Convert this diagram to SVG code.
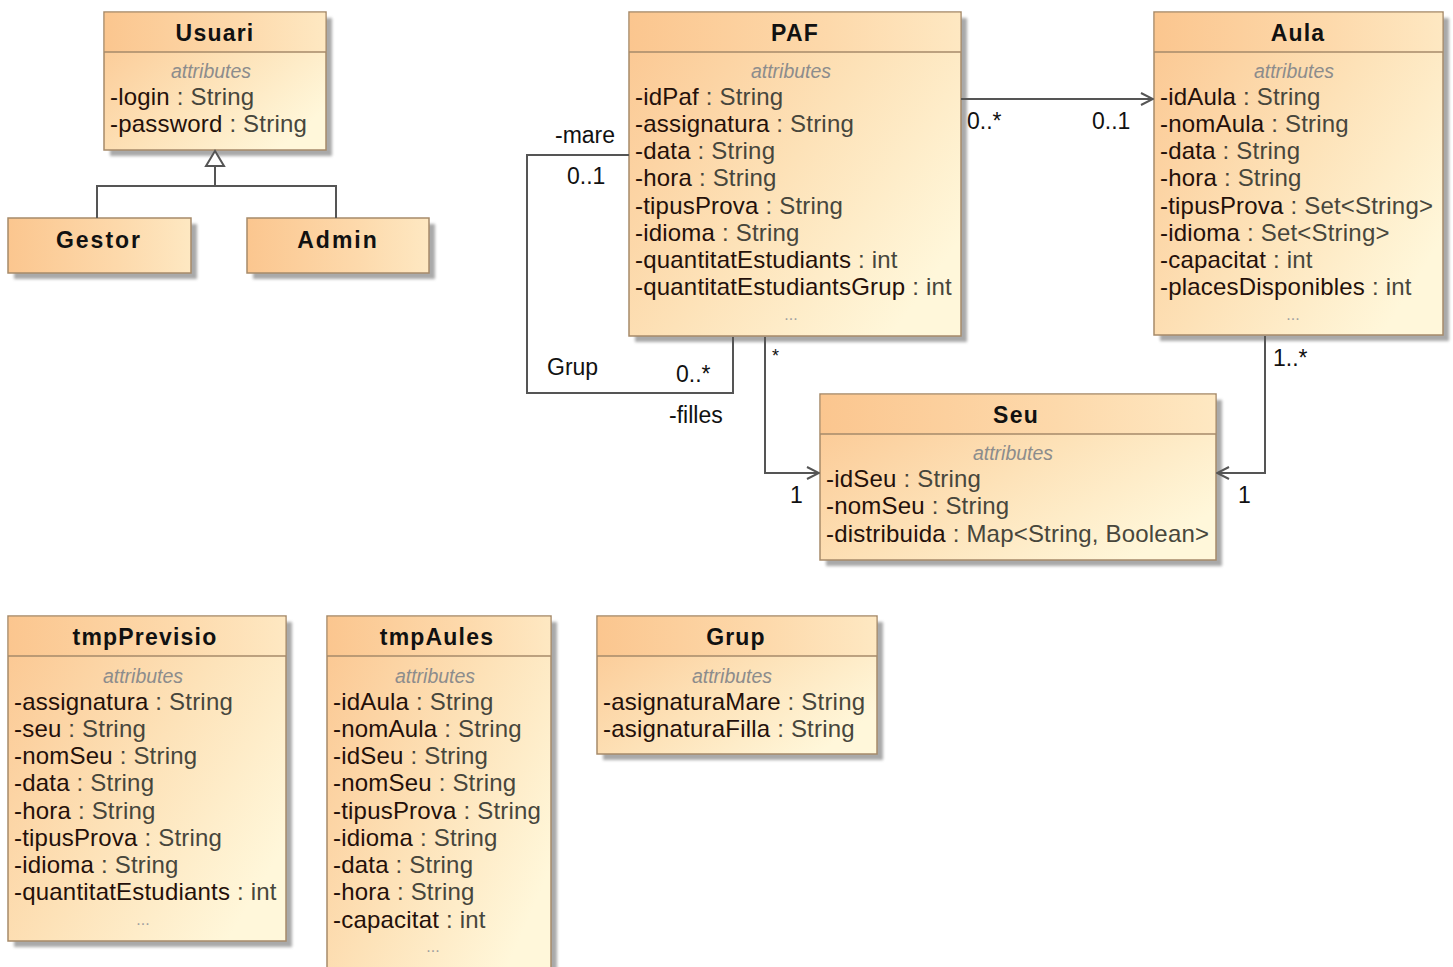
<svg xmlns="http://www.w3.org/2000/svg" width="1453" height="967" viewBox="0 0 1453 967">
  <defs>
    <linearGradient id="body" x1="0" y1="0" x2="1" y2="0.7">
      <stop offset="0" stop-color="#fbc690"/>
      <stop offset="0.55" stop-color="#fde2b8"/>
      <stop offset="1" stop-color="#fff7da"/>
    </linearGradient>
    <linearGradient id="head" x1="0" y1="0" x2="1" y2="0">
      <stop offset="0" stop-color="#fbc68f"/>
      <stop offset="0.6" stop-color="#fdd9ab"/>
      <stop offset="1" stop-color="#fee8c2"/>
    </linearGradient>
    <filter id="soft" x="-10%" y="-10%" width="120%" height="120%">
      <feGaussianBlur stdDeviation="1.5"/>
    </filter>
    <marker id="open" viewBox="0 0 14 14" refX="13" refY="7" markerWidth="14" markerHeight="14" markerUnits="userSpaceOnUse" orient="auto">
      <path d="M1,1 L13,7 L1,13" fill="none" stroke="#555" stroke-width="2"/>
    </marker>
  </defs>
  <style>
    .shadow { fill: #a9a9a9; filter: url(#soft); }
    .box { fill: url(#body); stroke: #a68a6a; stroke-width: 1.5; }
    .hd { fill: url(#head); }
    .sep { stroke: #a68a6a; stroke-width: 1.5; }
    .title { font-family: "Liberation Sans", Arial, sans-serif; font-weight: bold; font-size: 23px; letter-spacing: 1.2px; fill: #111; text-anchor: middle; }
    .cap { font-family: "Liberation Sans", Arial, sans-serif; font-style: italic; font-size: 19.5px; fill: #8c8c8c; text-anchor: middle; }
    .dots { font-family: "Liberation Sans", Arial, sans-serif; font-size: 16px; fill: #a0a0a0; text-anchor: middle; }
    .attr { font-family: "Liberation Sans", Arial, sans-serif; font-size: 24px; letter-spacing: 0.2px; }
    .n { fill: #24100a; }
    .t { fill: #47463c; }
    .lbl { font-family: "Liberation Sans", Arial, sans-serif; font-size: 23px; fill: #111; }
    .line { fill: none; stroke: #555; stroke-width: 2; }
  </style>

  <rect width="1453" height="967" fill="#ffffff"/>

  <!-- Usuari -->
  <g id="usuari">
    <rect class="shadow" x="110" y="18" width="222" height="138"/>
    <rect class="box" x="104" y="12" width="222" height="138"/>
    <rect class="hd" x="104.75" y="12.75" width="220.5" height="39.25"/>
    <line class="sep" x1="104" y1="52" x2="326" y2="52"/>
    <text class="title" x="215" y="41">Usuari</text>
    <text class="cap" x="211" y="78">attributes</text>
    <text class="attr" x="110" y="105"><tspan class="n">-login</tspan><tspan class="t"> : String</tspan></text>
    <text class="attr" x="110" y="132"><tspan class="n">-password</tspan><tspan class="t"> : String</tspan></text>
  </g>

  <!-- Gestor -->
  <g id="gestor">
    <rect class="shadow" x="14" y="224" width="183" height="55"/>
    <rect class="box" x="8" y="218" width="183" height="55" style="fill:url(#head)"/>
    <text class="title" x="99" y="248" style="letter-spacing:2px">Gestor</text>
  </g>

  <!-- Admin -->
  <g id="admin">
    <rect class="shadow" x="253" y="224" width="182" height="55"/>
    <rect class="box" x="247" y="218" width="182" height="55" style="fill:url(#head)"/>
    <text class="title" x="338" y="248" style="letter-spacing:2px">Admin</text>
  </g>

  <!-- PAF -->
  <g id="paf">
    <rect class="shadow" x="635" y="18" width="332" height="324"/>
    <rect class="box" x="629" y="12" width="332" height="324"/>
    <rect class="hd" x="629.75" y="12.75" width="330.5" height="39.25"/>
    <line class="sep" x1="629" y1="52" x2="961" y2="52"/>
    <text class="title" x="795" y="41">PAF</text>
    <text class="cap" x="791" y="78">attributes</text>
    <text class="attr" x="635" y="105"><tspan class="n">-idPaf</tspan><tspan class="t"> : String</tspan></text>
    <text class="attr" x="635" y="132"><tspan class="n">-assignatura</tspan><tspan class="t"> : String</tspan></text>
    <text class="attr" x="635" y="159"><tspan class="n">-data</tspan><tspan class="t"> : String</tspan></text>
    <text class="attr" x="635" y="186"><tspan class="n">-hora</tspan><tspan class="t"> : String</tspan></text>
    <text class="attr" x="635" y="214"><tspan class="n">-tipusProva</tspan><tspan class="t"> : String</tspan></text>
    <text class="attr" x="635" y="241"><tspan class="n">-idioma</tspan><tspan class="t"> : String</tspan></text>
    <text class="attr" x="635" y="268"><tspan class="n">-quantitatEstudiants</tspan><tspan class="t"> : int</tspan></text>
    <text class="attr" x="635" y="295"><tspan class="n">-quantitatEstudiantsGrup</tspan><tspan class="t"> : int</tspan></text>
    <text class="dots" x="791" y="320">...</text>
  </g>

  <!-- Aula -->
  <g id="aula">
    <rect class="shadow" x="1160" y="18" width="289" height="323"/>
    <rect class="box" x="1154" y="12" width="289" height="323"/>
    <rect class="hd" x="1154.75" y="12.75" width="287.5" height="39.25"/>
    <line class="sep" x1="1154" y1="52" x2="1443" y2="52"/>
    <text class="title" x="1298" y="41">Aula</text>
    <text class="cap" x="1294" y="78">attributes</text>
    <text class="attr" x="1160" y="105"><tspan class="n">-idAula</tspan><tspan class="t"> : String</tspan></text>
    <text class="attr" x="1160" y="132"><tspan class="n">-nomAula</tspan><tspan class="t"> : String</tspan></text>
    <text class="attr" x="1160" y="159"><tspan class="n">-data</tspan><tspan class="t"> : String</tspan></text>
    <text class="attr" x="1160" y="186"><tspan class="n">-hora</tspan><tspan class="t"> : String</tspan></text>
    <text class="attr" x="1160" y="214"><tspan class="n">-tipusProva</tspan><tspan class="t"> : Set&lt;String&gt;</tspan></text>
    <text class="attr" x="1160" y="241"><tspan class="n">-idioma</tspan><tspan class="t"> : Set&lt;String&gt;</tspan></text>
    <text class="attr" x="1160" y="268"><tspan class="n">-capacitat</tspan><tspan class="t"> : int</tspan></text>
    <text class="attr" x="1160" y="295"><tspan class="n">-placesDisponibles</tspan><tspan class="t"> : int</tspan></text>
    <text class="dots" x="1293" y="320">...</text>
  </g>

  <!-- Seu -->
  <g id="seu">
    <rect class="shadow" x="826" y="400" width="396" height="166"/>
    <rect class="box" x="820" y="394" width="396" height="166"/>
    <rect class="hd" x="820.75" y="394.75" width="394.5" height="39.25"/>
    <line class="sep" x1="820" y1="434" x2="1216" y2="434"/>
    <text class="title" x="1016" y="423">Seu</text>
    <text class="cap" x="1013" y="460">attributes</text>
    <text class="attr" x="826" y="487"><tspan class="n">-idSeu</tspan><tspan class="t"> : String</tspan></text>
    <text class="attr" x="826" y="514"><tspan class="n">-nomSeu</tspan><tspan class="t"> : String</tspan></text>
    <text class="attr" x="826" y="542"><tspan class="n">-distribuida</tspan><tspan class="t"> : Map&lt;String, Boolean&gt;</tspan></text>
  </g>

  <!-- tmpPrevisio -->
  <g id="tmpPrevisio">
    <rect class="shadow" x="14" y="622" width="278" height="325"/>
    <rect class="box" x="8" y="616" width="278" height="325"/>
    <rect class="hd" x="8.75" y="616.75" width="276.5" height="39.25"/>
    <line class="sep" x1="8" y1="656" x2="286" y2="656"/>
    <text class="title" x="145" y="645">tmpPrevisio</text>
    <text class="cap" x="143" y="683">attributes</text>
    <text class="attr" x="14" y="710"><tspan class="n">-assignatura</tspan><tspan class="t"> : String</tspan></text>
    <text class="attr" x="14" y="737"><tspan class="n">-seu</tspan><tspan class="t"> : String</tspan></text>
    <text class="attr" x="14" y="764"><tspan class="n">-nomSeu</tspan><tspan class="t"> : String</tspan></text>
    <text class="attr" x="14" y="791"><tspan class="n">-data</tspan><tspan class="t"> : String</tspan></text>
    <text class="attr" x="14" y="819"><tspan class="n">-hora</tspan><tspan class="t"> : String</tspan></text>
    <text class="attr" x="14" y="846"><tspan class="n">-tipusProva</tspan><tspan class="t"> : String</tspan></text>
    <text class="attr" x="14" y="873"><tspan class="n">-idioma</tspan><tspan class="t"> : String</tspan></text>
    <text class="attr" x="14" y="900"><tspan class="n">-quantitatEstudiants</tspan><tspan class="t"> : int</tspan></text>
    <text class="dots" x="143" y="925">...</text>
  </g>

  <!-- tmpAules -->
  <g id="tmpAules">
    <rect class="shadow" x="333" y="622" width="224" height="360"/>
    <rect class="box" x="327" y="616" width="224" height="360"/>
    <rect class="hd" x="327.75" y="616.75" width="222.5" height="39.25"/>
    <line class="sep" x1="327" y1="656" x2="551" y2="656"/>
    <text class="title" x="437" y="645">tmpAules</text>
    <text class="cap" x="435" y="683">attributes</text>
    <text class="attr" x="333" y="710"><tspan class="n">-idAula</tspan><tspan class="t"> : String</tspan></text>
    <text class="attr" x="333" y="737"><tspan class="n">-nomAula</tspan><tspan class="t"> : String</tspan></text>
    <text class="attr" x="333" y="764"><tspan class="n">-idSeu</tspan><tspan class="t"> : String</tspan></text>
    <text class="attr" x="333" y="791"><tspan class="n">-nomSeu</tspan><tspan class="t"> : String</tspan></text>
    <text class="attr" x="333" y="819"><tspan class="n">-tipusProva</tspan><tspan class="t"> : String</tspan></text>
    <text class="attr" x="333" y="846"><tspan class="n">-idioma</tspan><tspan class="t"> : String</tspan></text>
    <text class="attr" x="333" y="873"><tspan class="n">-data</tspan><tspan class="t"> : String</tspan></text>
    <text class="attr" x="333" y="900"><tspan class="n">-hora</tspan><tspan class="t"> : String</tspan></text>
    <text class="attr" x="333" y="928"><tspan class="n">-capacitat</tspan><tspan class="t"> : int</tspan></text>
    <text class="dots" x="433" y="952">...</text>
  </g>

  <!-- Grup -->
  <g id="grup">
    <rect class="shadow" x="603" y="622" width="280" height="138"/>
    <rect class="box" x="597" y="616" width="280" height="138"/>
    <rect class="hd" x="597.75" y="616.75" width="278.5" height="39.25"/>
    <line class="sep" x1="597" y1="656" x2="877" y2="656"/>
    <text class="title" x="736" y="645">Grup</text>
    <text class="cap" x="732" y="683">attributes</text>
    <text class="attr" x="603" y="710"><tspan class="n">-asignaturaMare</tspan><tspan class="t"> : String</tspan></text>
    <text class="attr" x="603" y="737"><tspan class="n">-asignaturaFilla</tspan><tspan class="t"> : String</tspan></text>
  </g>

  <!-- Connectors -->
  <g id="connectors">
    <!-- generalization Gestor/Admin to Usuari -->
    <polyline class="line" points="97,218 97,186 336,186 336,218"/>
    <line class="line" x1="215" y1="186" x2="215" y2="167"/>
    <polygon points="215,151 206,166 224,166" fill="#ffffff" stroke="#555" stroke-width="2" stroke-linejoin="miter"/>

    <!-- PAF to Aula -->
    <line class="line" x1="961" y1="99" x2="1153" y2="99" marker-end="url(#open)"/>
    <text class="lbl" x="967" y="129">0..*</text>
    <text class="lbl" x="1092" y="129">0..1</text>

    <!-- PAF self association via Grup -->
    <polyline class="line" points="629,155 527,155 527,393 733,393 733,337"/>
    <text class="lbl" x="555" y="143">-mare</text>
    <text class="lbl" x="567" y="184">0..1</text>
    <text class="lbl" x="547" y="375">Grup</text>
    <text class="lbl" x="676" y="382">0..*</text>
    <text class="lbl" x="669" y="423">-filles</text>

    <!-- PAF to Seu -->
    <polyline class="line" points="765,337 765,473 819,473" marker-end="url(#open)"/>
    <text class="lbl" x="772" y="362" style="font-size:18px">*</text>
    <text class="lbl" x="790" y="503">1</text>

    <!-- Aula to Seu -->
    <polyline class="line" points="1265,336 1265,473 1217,473" marker-end="url(#open)"/>
    <text class="lbl" x="1273" y="366">1..*</text>
    <text class="lbl" x="1238" y="503">1</text>
  </g>
</svg>
